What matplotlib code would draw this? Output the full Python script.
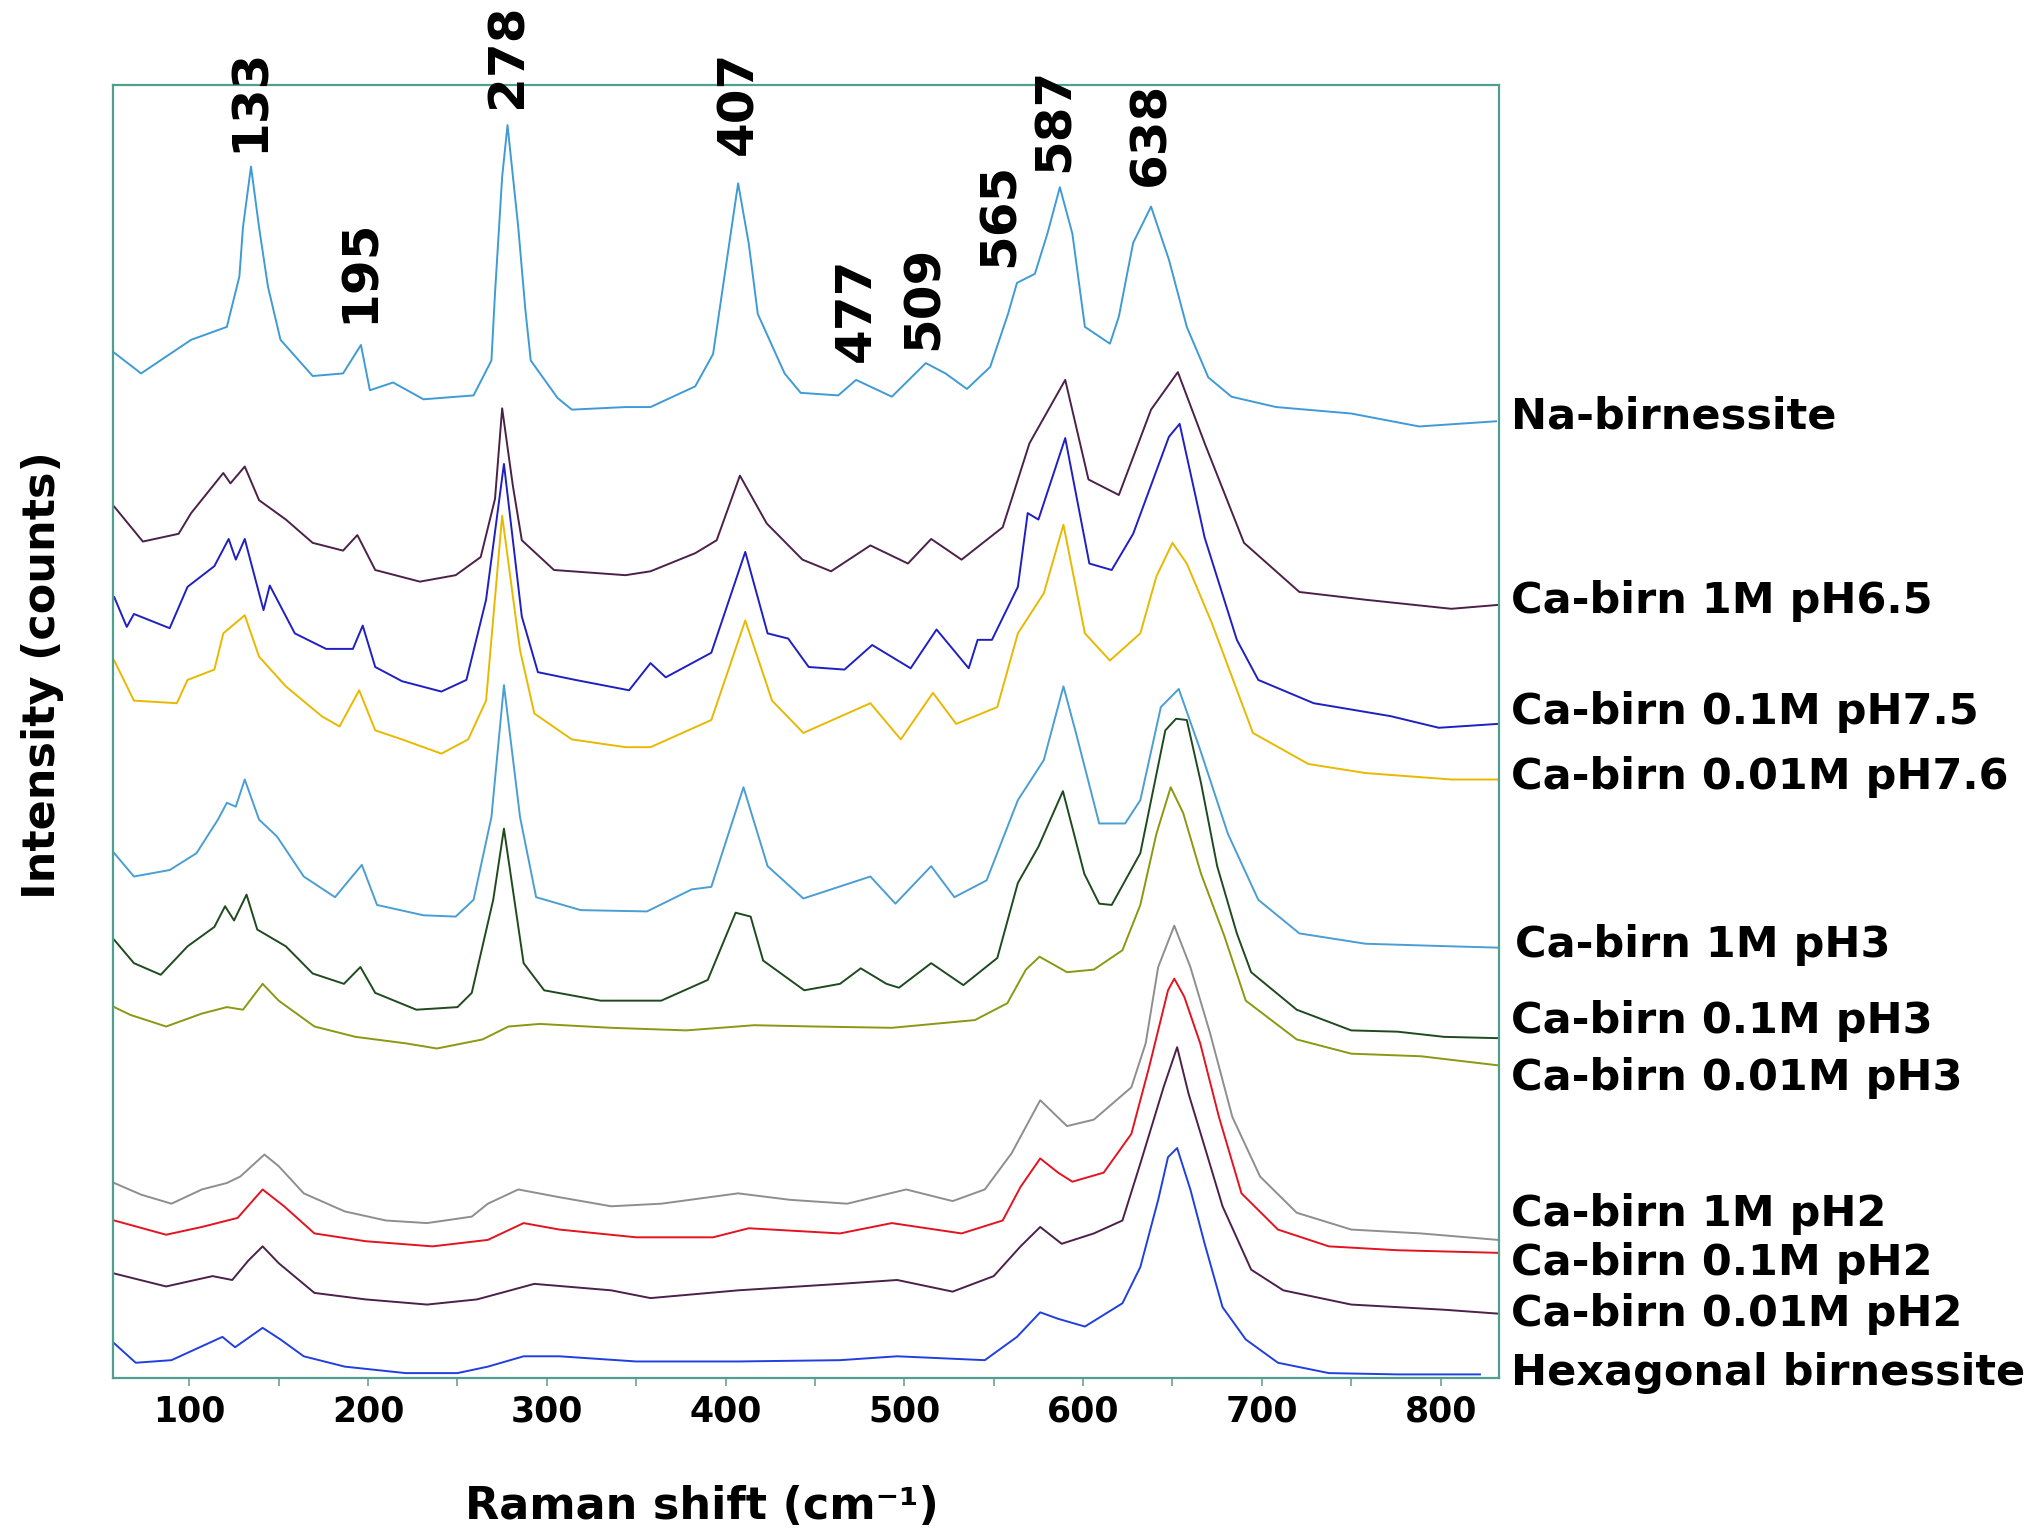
import matplotlib
matplotlib.use("Agg")
import matplotlib.pyplot as plt
import matplotlib.transforms as mtransforms

plt.rcParams['font.family'] = ['DejaVu Sans']
plt.rcParams['font.weight'] = 'bold'

# ---------------- data (Raman shift in cm-1, stacked intensity in arbitrary counts) -------------
na_x = [58, 73, 101, 121, 128, 130, 134.5, 139, 144, 151, 169, 186, 196, 201, 214, 231, 259, 269, 271, 275,
        278, 284, 288, 291, 306, 314, 344, 358, 383, 393, 402, 407, 413, 418, 433, 442, 463, 473, 493, 512,
        523, 535, 548, 558, 563, 573, 580, 587, 594, 601, 615, 620, 628, 638, 648, 658, 670, 683, 708, 750,
        788, 831]
na_y = [793, 777, 803, 813, 852, 890, 937, 890, 844, 803, 775, 777, 799, 764, 770, 757, 760, 787, 839, 929,
        969, 890, 826, 787, 758, 749, 751, 751, 767, 792, 877, 924, 877, 823, 777, 762, 760, 772, 759, 785,
        777, 765, 782, 823, 847, 854, 885, 921, 885, 813, 800, 821, 878, 906, 865, 813, 774, 759, 751, 746,
        736, 740]

ca1_65_x = [58, 74, 94, 101, 119, 123, 131, 139, 154, 169, 186, 194, 204, 229, 249, 263, 271, 275, 281, 286,
            304, 344, 358, 383, 395, 408, 423, 443, 459, 481, 502, 515, 532, 555, 570, 590, 603, 620, 638, 653,
            668, 690, 721, 758, 806, 832]
ca1_65_y = [674, 647, 653, 669, 700, 692, 705, 679, 664, 646, 640, 652, 625, 616, 621, 635, 680, 750, 690, 648,
            625, 621, 624, 638, 648, 698, 661, 633, 624, 644, 630, 649, 633, 658, 723, 772, 695, 683, 749, 778,
            723, 646, 608, 602, 595, 598]

ca01_75_x = [58, 65, 69, 89, 99, 114, 122, 126, 131, 141.5, 145, 159, 176.5, 191.5, 197, 204, 219, 241, 255, 266,
             276, 286, 295, 316, 346, 358, 366.5, 392, 411, 423.5, 435, 446.5, 466.5, 482, 503.5, 518, 536, 541, 549, 563.5,
             569, 575, 590, 603.5, 616, 628, 648, 654, 668, 686, 698, 729, 772, 799, 832]
ca01_75_y = [604, 581, 591, 580, 612, 628, 649, 633, 649, 594, 613, 576, 564, 564, 582, 550, 539, 531, 540, 602,
             707, 589, 546, 540, 532, 553, 542, 561, 639, 576, 572, 550, 548, 567, 549, 579, 549, 571, 571, 612,
             669, 664, 727, 630, 625, 653, 728, 738, 650, 571, 540, 522, 512, 503, 506]

ca001_76_x = [58, 69, 93, 99, 114, 119, 131, 139, 154, 174, 184, 195, 204, 219, 241, 256, 266, 275, 285, 293,
              314, 344, 358, 392, 411, 426, 443.5, 481, 498, 516, 529, 552, 563.5, 578, 589, 601, 615, 632, 641, 650,
              658, 672, 695, 726, 758, 806, 832]
ca001_76_y = [555, 524, 522, 540, 548, 576, 590, 558, 535, 512, 504, 532, 501, 494, 483, 494, 524, 667, 563, 514,
              494, 488, 488, 509, 586, 524, 499, 522, 494, 530, 506, 519, 576, 607, 660, 576, 555, 576, 620, 646,
              630, 584, 499, 475, 468, 463, 463]

ca1_3_x = [58, 69, 89, 104, 116, 121, 126, 131, 139, 149, 164, 181.5, 196.5, 205, 231, 249, 259, 269, 276, 285,
           294, 319, 356, 381, 392, 410, 423.5, 443.5, 481, 495, 515, 528, 546, 563.5, 578, 589, 596, 609, 623.5, 632,
           643.5, 653.5, 665, 681, 698, 721, 758, 806, 832]
ca1_3_y = [406, 388, 393, 406, 432, 445, 442, 463, 432, 419, 388, 372, 397, 366, 358, 357, 370, 434, 536, 434,
           372, 362, 361, 378, 380, 457, 396, 371, 388, 367, 396, 372, 385, 447, 478, 535, 499, 429, 429, 447,
           519, 533, 488, 421, 370, 344, 336, 334, 333]

ca01_3_x = [58, 69, 84, 99, 114, 120, 125, 132, 138, 154, 169, 186.5, 195.7, 204, 227, 250, 258, 270, 276, 287,
            298.5, 330, 364, 390, 405.6, 414, 421, 444, 464, 475.6, 490, 497, 515, 533, 552, 563.5, 575, 588.7, 600.7, 609,
            616, 632, 646, 652, 658, 666, 675, 686, 694, 719.5, 750, 776, 802, 832]
ca01_3_y = [339, 321, 312, 334, 349, 365, 354, 374, 347, 334, 313, 305, 318, 298, 285, 287, 298, 370, 425, 321,
            300, 292, 292, 308, 360, 357, 323, 300, 305, 317, 305, 302, 321, 304, 325, 383, 411, 454, 390, 367,
            366, 406, 501, 510, 509, 460, 396, 344, 314, 285, 269, 268, 264, 263]

ca001_3_x = [58, 67, 87, 107, 121, 130, 141, 150, 170, 193, 221, 238.5, 264, 278.5, 296, 336, 378, 416, 450, 493,
             539.5, 557.6, 568, 575.6, 591, 606, 622, 632, 641, 649, 656, 666, 679, 691, 719.5, 750, 789, 832]
ca001_3_y = [287, 281, 272, 282, 287, 285, 305, 292, 272, 264, 259, 255, 262, 272, 274, 271, 269, 273, 272, 271,
             277, 290, 316, 326, 314, 316, 331, 366, 421, 457, 437, 390, 342, 292, 262, 251, 249, 242]

ca1_2_x = [58, 73, 90, 107, 121, 128.5, 142, 150, 164, 187, 210, 233, 258, 267, 284, 307, 336, 364, 407, 436,
           468, 501, 527, 545, 560, 576, 591, 606, 627, 635, 642, 651, 660, 671, 683.5, 699, 719.5, 750, 789, 832]
ca1_2_y = [151, 142, 135, 146, 151, 156, 173, 164, 143, 129, 122, 120, 125, 135, 146, 140, 133, 135, 143, 138,
           135, 146, 137, 146, 174, 215, 195, 200, 225, 259, 318, 350, 318, 267, 202, 156, 128, 115, 112, 107]

ca01_2_x = [58, 87, 107, 127, 141, 153, 170, 198.5, 236, 267, 287, 307, 350, 393, 413, 464, 493, 532, 555, 565,
            576, 586, 594, 611.5, 627, 637, 647.5, 651, 656.6, 665.5, 676, 688.6, 709, 737.5, 776, 832]
ca01_2_y = [122, 111, 117, 124, 146, 133, 112, 106, 102, 107, 120, 115, 109, 109, 116, 112, 120, 112, 122, 148,
            170, 159, 152, 159, 189, 241, 300, 309, 295, 259, 202, 143, 115, 102, 99, 97]

ca001_2_x = [58, 87, 113, 124, 133, 141, 150, 170, 198.5, 233, 261, 293, 336, 358, 407, 464, 496, 527, 550, 565,
             576, 588, 606, 622, 632, 645, 652.6, 659, 668, 678, 694, 712, 750, 802, 832]
ca001_2_y = [81, 71, 79, 76, 91, 102, 89, 66, 61, 57, 61, 73, 68, 62, 68, 73, 76, 67, 79, 102,
             117, 104, 112, 122, 166, 225, 256, 220, 179, 133, 84, 68, 57, 53, 50]

hex_x = [58, 70, 90, 118.5, 125.6, 141, 151, 164, 187, 221, 250, 267, 287, 307, 350, 407, 464, 496, 545, 563,
         576, 586, 601, 622, 632, 642, 647.5, 652.6, 660, 668, 678, 691, 709, 737.5, 776, 822]
hex_y = [27, 12, 14, 32, 24, 39, 30, 17, 9, 4, 4, 9, 17, 17, 13, 13, 14, 17, 14, 32,
         51, 46, 40, 58, 86, 138, 171, 178, 146, 104, 55, 30, 12, 4, 3, 3]

series_names = ["Na-birnessite", "Ca-birn 1M pH6.5", "Ca-birn 0.1M pH7.5", "Ca-birn 0.01M pH7.6",
                "Ca-birn 1M pH3", "Ca-birn 0.1M pH3", "Ca-birn 0.01M pH3",
                "Ca-birn 1M pH2", "Ca-birn 0.1M pH2", "Ca-birn 0.01M pH2", "Hexagonal birnessite"]
series_x = [na_x, ca1_65_x, ca01_75_x, ca001_76_x, ca1_3_x, ca01_3_x, ca001_3_x, ca1_2_x, ca01_2_x, ca001_2_x, hex_x]
series_y = [na_y, ca1_65_y, ca01_75_y, ca001_76_y, ca1_3_y, ca01_3_y, ca001_3_y, ca1_2_y, ca01_2_y, ca001_2_y, hex_y]
series_colors = ['#3f9bd5', '#4b2049', '#1f1fc2', '#e8b900', '#4a9ed4', '#1f4a1f', '#8a9812',
                 '#8e8e8e', '#e3131f', '#4b2049', '#1f3fe0']
# label vertical positions (intensity units) for the sample names at right
label_y = [744, 601, 515, 465, 335, 276, 232, 127, 89, 50, 4]

# peak annotations
peak_labels = ["133", "195", "278", "407", "477", "509", "565", "587", "638"]
peak_x = [134, 195.5, 278, 407, 473, 511, 553.5, 584, 637.7]
peak_y = [948, 816, 982, 946, 786, 795, 859, 933, 922]

xticks = [100, 200, 300, 400, 500, 600, 700, 800]
minor_ticks = [150, 250, 350, 450, 550, 650, 750]

# ---------------- figure ----------------
frame_color = '#4f9e8e'
fig = plt.figure(figsize=(20.28, 15.35), dpi=100)
ax = fig.add_axes([0.0559, 0.1021, 0.6832, 0.8425])

for xs, ys, c in zip(series_x, series_y, series_colors):
    ax.plot(xs, ys, color=c, lw=1.4, solid_joinstyle='round')

ax.set_xlim(57.5, 832.6)
ax.set_ylim(0, 1000)
ax.set_yticks([])
ax.set_xticks(xticks)
ax.set_xticklabels([str(t) for t in xticks], fontsize=25, fontweight='bold')
ax.set_xticks(minor_ticks, minor=True)
ax.tick_params(axis='x', which='both', direction='out', length=6, width=1.3,
               color='#7aa9a0', pad=6)
for sp in ax.spines.values():
    sp.set_color(frame_color)
    sp.set_linewidth(1.6)

# peak labels (rotated)
for lab, px, py in zip(peak_labels, peak_x, peak_y):
    ax.text(px, py, lab, rotation=90, ha='center', va='bottom', fontsize=36,
            fontweight='bold', color='black', clip_on=False)

# sample labels at right
trans = mtransforms.blended_transform_factory(ax.transAxes, ax.transData)
for i, (name, ly) in enumerate(zip(series_names, label_y)):
    xoff = 1.0114 if name == "Ca-birn 1M pH3" else 1.0086
    ax.text(xoff, ly, name, transform=trans, ha='left', va='center', fontsize=31,
            fontweight='bold', color='black', clip_on=False)

fig.text(0.021, 0.560, "Intensity (counts)", rotation=90, ha='center', va='center',
         fontsize=32, fontweight='bold')
fig.text(0.3463, 0.0184, "Raman shift (cm⁻¹)", ha='center', va='center',
         fontsize=32, fontweight='bold')

fig.savefig("out.png", dpi=100, facecolor='white')
